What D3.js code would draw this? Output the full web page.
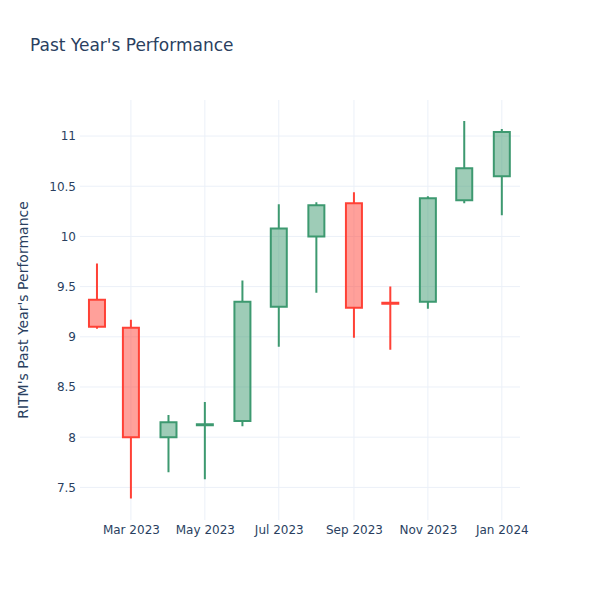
<!DOCTYPE html>
<html>
<head>
<meta charset="utf-8">
<script src="https://cdn.jsdelivr.net/npm/d3@7"></script>
<style>
body { margin: 0; background: #fff; }
svg { font-family: "DejaVu Sans", Verdana, sans-serif; }
</style>
</head>
<body>
<svg id="chart" width="600" height="600"></svg>
<script>
// ---- data ----
const dates = ["2023-02-01","2023-03-01","2023-04-01","2023-05-01","2023-06-01","2023-07-01",
               "2023-08-01","2023-09-01","2023-10-01","2023-11-01","2023-12-01","2024-01-01"];
const open  = [9.37, 9.09, 8.00, 8.12, 8.16, 9.30, 10.00, 10.33, 9.34, 9.35, 10.36, 10.60];
const high  = [9.73, 9.17, 8.22, 8.35, 9.56, 10.32, 10.34, 10.44, 9.50, 10.40, 11.15, 11.07];
const low   = [9.08, 7.39, 7.65, 7.58, 8.11, 8.90, 9.44, 8.99, 8.87, 9.28, 10.33, 10.21];
const close = [9.10, 8.00, 8.15, 8.13, 9.35, 10.08, 10.31, 9.29, 9.33, 10.38, 10.68, 11.04];
const yTicks = [7.5, 8, 8.5, 9, 9.5, 10, 10.5, 11];
const xTicks = ["2023-03-01","2023-05-01","2023-07-01","2023-09-01","2023-11-01","2024-01-01"];
const xRange = ["2023-01-18","2024-01-16"];
const yRange = [7.175, 11.359];

const parse = d3.utcParse("%Y-%m-%d");
const data = dates.map((d, i) => ({date: parse(d), o: open[i], h: high[i], l: low[i], c: close[i]}));

const W = 600, H = 600, m = {t: 100, r: 80, b: 80, l: 80};
const svg = d3.select("#chart");
const x = d3.scaleUtc().domain(xRange.map(parse)).range([m.l, W - m.r]);
const y = d3.scaleLinear().domain(yRange).range([H - m.b, m.t]);

const textColor = "#2a3f5f", gridColor = "#ebf0f8";

// grid
const grid = svg.append("g");
grid.selectAll("line.h").data(yTicks).join("line")
  .attr("x1", m.l).attr("x2", W - m.r)
  .attr("y1", d => y(d)).attr("y2", d => y(d))
  .attr("stroke", gridColor).attr("stroke-width", 1);
grid.selectAll("line.v").data(xTicks.map(parse)).join("line")
  .attr("y1", m.t).attr("y2", H - m.b)
  .attr("x1", d => x(d)).attr("x2", d => x(d))
  .attr("stroke", gridColor).attr("stroke-width", 1);

// axes
const yAxis = d3.axisLeft(y).tickValues(yTicks).tickSize(0).tickPadding(3)
  .tickFormat(d => d3.format("~g")(d));
svg.append("g").attr("transform", `translate(${m.l - 1},0)`).call(yAxis)
  .call(g => g.select(".domain").remove())
  .call(g => g.selectAll("text").attr("fill", textColor).attr("font-size", 12)
    .attr("font-family", "DejaVu Sans, sans-serif"));

const xAxis = d3.axisBottom(x).tickValues(xTicks.map(parse)).tickSize(0).tickPadding(5)
  .tickFormat(d3.utcFormat("%b %Y"));
svg.append("g").attr("transform", `translate(0,${H - m.b})`).call(xAxis)
  .call(g => g.select(".domain").remove())
  .call(g => g.selectAll("text").attr("fill", textColor).attr("font-size", 12)
    .attr("font-family", "DejaVu Sans, sans-serif"));

// candles
const hw = 8;
const inc = {line: "#3D9970", fill: "rgba(61,153,112,0.5)"};
const dec = {line: "#FF4136", fill: "rgba(255,65,54,0.5)"};
svg.append("g").selectAll("path").data(data).join("path")
  .attr("d", d => {
    const cx = x(d.date), yo = y(d.o), yc = y(d.c);
    const top = Math.min(yo, yc), bot = Math.max(yo, yc);
    return `M${cx - hw},${yo}V${yc}H${cx + hw}V${yo}Z` +
           `M${cx},${bot}V${y(d.l)}M${cx},${top}V${y(d.h)}`;
  })
  .attr("fill", d => d.c >= d.o ? inc.fill : dec.fill)
  .attr("stroke", d => d.c >= d.o ? inc.line : dec.line)
  .attr("stroke-width", 2);

// title
svg.append("text").attr("x", 30).attr("y", 51)
  .attr("fill", textColor).attr("font-size", 17)
  .text("Past Year's Performance");

// y title
svg.append("text")
  .attr("transform", `translate(28,${(m.t + H - m.b) / 2}) rotate(-90)`)
  .attr("text-anchor", "middle")
  .attr("fill", textColor).attr("font-size", 14)
  .text("RITM's Past Year's Performance");
</script>
</body>
</html>
